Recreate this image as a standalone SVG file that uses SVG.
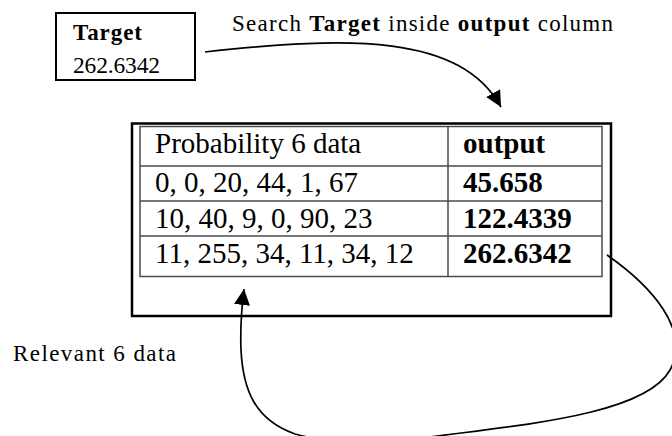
<svg xmlns="http://www.w3.org/2000/svg" width="672" height="436" viewBox="0 0 672 436">
<style>
  .lbl { font-family: "Liberation Serif", "Times New Roman", serif; fill: #000; }
  .tb { font-family: "Liberation Serif", "Times New Roman", serif; font-size: 29px; fill: #000; }
  .b { font-weight: bold; }
  .grid { stroke: #4a4a4a; stroke-width: 1.5; fill: none; }
  .conn { stroke: #000; stroke-width: 1.7; fill: none; marker-end: url(#arr); }
</style>
<defs>
  <marker id="arr" viewBox="0 0 16 16" refX="16" refY="8" markerWidth="16" markerHeight="16" markerUnits="userSpaceOnUse" orient="auto">
    <path d="M0,0 L16,8 L0,16 Z" fill="#000"/>
  </marker>
</defs>
<rect width="672" height="436" fill="#fff"/>

<g id="target">
  <rect x="56" y="13" width="139" height="67" fill="#fff" stroke="#000" stroke-width="2"/>
  <text class="lbl b" x="73" y="40" font-size="23" textLength="69">Target</text>
  <text class="lbl" x="73" y="73" font-size="23.5" textLength="87">262.6342</text>
</g>

<g id="search-label">
  <text class="lbl" x="232" y="31" font-size="23" textLength="381">Search <tspan class="b">Target</tspan> inside <tspan class="b">output</tspan> column</text>
</g>

<g id="relevant-label">
  <text class="lbl" x="13" y="361" font-size="23" textLength="163">Relevant 6 data</text>
</g>

<g id="table">
  <rect x="132" y="123.5" width="479" height="192.5" fill="#fff" stroke="#000" stroke-width="2.5"/>
  <rect x="140" y="126.5" width="462" height="150" class="grid"/>
  <line x1="448" y1="126.5" x2="448" y2="276.5" class="grid"/>
  <line x1="140" y1="166" x2="602" y2="166" class="grid"/>
  <line x1="140" y1="201" x2="602" y2="201" class="grid"/>
  <line x1="140" y1="236" x2="602" y2="236" class="grid"/>
  <text class="tb" x="155" y="153">Probability 6 data</text>
  <text class="tb b" x="463" y="153">output</text>
  <text class="tb" x="155" y="192">0, 0, 20, 44, 1, 67</text>
  <text class="tb b" x="463" y="192">45.658</text>
  <text class="tb" x="155" y="228">10, 40, 9, 0, 90, 23</text>
  <text class="tb b" x="463" y="228">122.4339</text>
  <text class="tb" x="155" y="263">11, 255, 34, 11, 34, 12</text>
  <text class="tb b" x="463" y="263">262.6342</text>
</g>

<g id="connectors">
  <path class="conn" d="M205,52 C350,36 460,34 501,107"/>
  <path class="conn" d="M607,255 C650,285 692,330 670,370 C645,415 520,425 430,437 C380,444 330,444 295,434 C255,420 243,390 241,350 C240,325 242,305 244,289"/>
</g>
</svg>
